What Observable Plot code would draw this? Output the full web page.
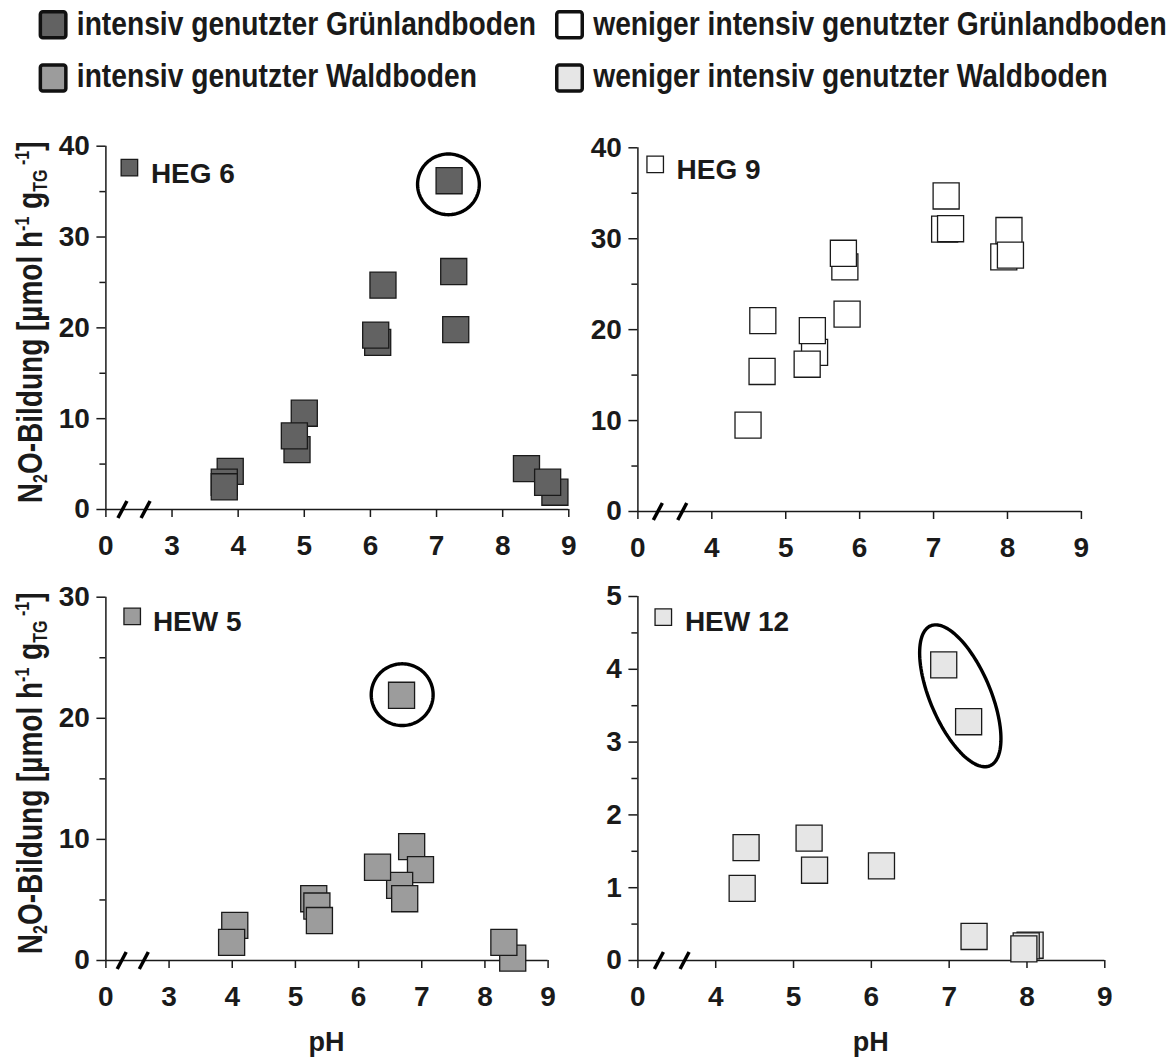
<!DOCTYPE html>
<html><head><meta charset="utf-8">
<script src="https://cdn.jsdelivr.net/npm/d3@7"></script>
<script src="https://cdn.jsdelivr.net/npm/@observablehq/plot@0.6"></script>
<style>
html,body{margin:0;padding:0;background:#fff;}
#root{position:relative;width:1171px;height:1062px;overflow:hidden;background:#fff;}
#root svg{position:absolute;}
</style></head><body><div id="root"></div>
<script>
// ---------- data ----------
const legendLabels = [
  "intensiv genutzter Grünlandboden",
  "weniger intensiv genutzter Grünlandboden",
  "intensiv genutzter Waldboden",
  "weniger intensiv genutzter Waldboden"
];
const siteNames = ["HEG 6", "HEG 9", "HEW 5", "HEW 12"];

const heg6_pH  = [7.19, 7.26, 7.29, 6.19, 6.11, 6.08, 5.00, 4.89, 4.85, 3.88, 3.79, 3.79, 8.36, 8.79, 8.68];
const heg6_N2O = [36.2, 26.2, 19.8, 24.7, 18.4, 19.2, 10.6, 6.6, 8.1, 4.2, 3.0, 2.5, 4.5, 1.9, 3.0];

const heg9_pH  = [7.15, 7.17, 7.23, 7.95, 8.02, 8.04, 5.80, 5.78, 5.83, 4.69, 5.39, 5.36, 5.29, 4.68, 4.49];
const heg9_N2O = [31.05, 34.7, 31.1, 28.0, 30.9, 28.2, 26.9, 28.4, 21.7, 21.0, 17.5, 19.9, 16.2, 15.4, 9.5];

const hew5_pH  = [6.68, 6.84, 6.98, 6.65, 6.30, 6.73, 5.29, 5.34, 5.38, 4.04, 3.99, 8.44, 8.30];
const hew5_N2O = [21.9, 9.4, 7.5, 6.2, 7.7, 5.1, 5.1, 4.5, 3.3, 2.9, 1.5, 0.2, 1.5];

const hew12_pH  = [4.39, 5.20, 5.27, 6.13, 4.34, 6.93, 7.25, 7.32, 8.04, 7.99, 7.96];
const hew12_N2O = [1.55, 1.68, 1.24, 1.30, 0.99, 4.06, 3.28, 0.33, 0.21, 0.20, 0.16];

// x axis with break: tick positions and their labels
const xTicksA = [2, 3, 4, 5, 6, 7, 8, 9];
const xLabelsA = ["0", "3", "4", "5", "6", "7", "8", "9"];
const xTicksB = [3, 4, 5, 6, 7, 8, 9];
const xLabelsB = ["0", "4", "5", "6", "7", "8", "9"];
const breakA = [2.25, 2.6];
const breakB = [3.27, 3.6];

const yMajor40 = [0, 10, 20, 30, 40], yMinor40 = [5, 15, 25, 35];
const yMajor30 = [0, 10, 20, 30],     yMinor30 = [5, 15, 25];
const yMajor5  = [0, 1, 2, 3, 4, 5],  yMinor5  = [0.5, 1.5, 2.5, 3.5, 4.5];

// highlighted outliers (ellipses in data units: centre + conjugate semi-axes)
const ringHEG6  = {cx: 7.18, cy: 35.8, ax: 0.467, ay: 0, bx: 0, by: 3.34};
const ringHEW5  = {cx: 6.69, cy: 21.95, ax: 0.49, ay: 0, bx: 0, by: 2.55};
const ringHEW12 = {cx: 7.143, cy: 3.636, ax: 0.369, ay: -0.966, bx: 0.37, by: 0.13};

// ---------- styles / layout ----------
const fills = ["#626262", "#ffffff", "#9c9c9c", "#e6e6e6"];
const FONT = "'Liberation Sans', Arial, Helvetica, sans-serif";
const INK = "#1a1a1a";

const root = d3.select("#root");

// legend
const leg = root.append("svg").attr("width", 1171).attr("height", 110)
  .style("left", "0px").style("top", "0px");
const colX = [38.6, 555], swTop = [10, 63.3], base = [35, 87.3];
legendLabels.forEach((lab, i) => {
  const c = i % 2, r = Math.floor(i / 2);
  leg.append("rect").attr("x", colX[c] + 1.75).attr("y", swTop[r] + 1.75)
    .attr("width", 29 - 3.5).attr("height", 29.5 - 3.5).attr("rx", 2.5)
    .attr("fill", fills[i]).attr("stroke", "#111").attr("stroke-width", 3.5);
  leg.append("text").attr("transform", `translate(${colX[c] + 38.2},${base[r]}) scale(0.855,1)`)
    .attr("font-family", FONT).attr("font-weight", "bold").attr("font-size", 33)
    .attr("fill", INK).text(lab);
});

const slash = {draw(ctx) { ctx.moveTo(-4.5, 8.5); ctx.lineTo(4.5, -8.5); }};

function ellipsePoints(e) {
  return d3.range(0, 121).map(i => {
    const t = 2 * Math.PI * i / 120;
    return {ph: e.cx + e.ax * Math.cos(t) + e.bx * Math.sin(t),
            v: e.cy + e.ay * Math.cos(t) + e.by * Math.sin(t)};
  });
}

const panels = [
  {name: siteNames[0], ph: heg6_pH, n2o: heg6_N2O, fill: fills[0], xTicks: xTicksA, xLabels: xLabelsA, brk: breakA,
   yDomain: [0, 40], yMajor: yMajor40, yMinor: yMinor40, ring: ringHEG6,
   left: 0, top: 110, w: 590, h: 470, ml: 105.4, mr: 21.7, mt: 35.7, mb: 71,
   swX: 23.5, swY: 21.5, txX: 45, txY: 36.6, ytitle: true, xtitle: false},
  {name: siteNames[1], ph: heg9_pH, n2o: heg9_N2O, fill: fills[1], xTicks: xTicksB, xLabels: xLabelsB, brk: breakB,
   yDomain: [0, 40], yMajor: yMajor40, yMinor: yMinor40, ring: null,
   left: 590, top: 110, w: 581, h: 470, ml: 47.4, mr: 90.1, mt: 37.3, mb: 69,
   swX: 17.3, swY: 16.5, txX: 38.6, txY: 31, ytitle: false, xtitle: false},
  {name: siteNames[2], ph: hew5_pH, n2o: hew5_N2O, fill: fills[2], xTicks: xTicksA, xLabels: xLabelsA, brk: breakA,
   yDomain: [0, 30], yMajor: yMajor30, yMinor: yMinor30, ring: ringHEW5,
   left: 0, top: 570, w: 590, h: 492, ml: 105.4, mr: 42.4, mt: 26.7, mb: 102,
   swX: 26.3, swY: 19.2, txX: 47, txY: 33.3, ytitle: true, xtitle: true},
  {name: siteNames[3], ph: hew12_pH, n2o: hew12_N2O, fill: fills[3], xTicks: xTicksB, xLabels: xLabelsB, brk: breakB,
   yDomain: [0, 5], yMajor: yMajor5, yMinor: yMinor5, ring: ringHEW12,
   left: 590, top: 570, w: 581, h: 492, ml: 47.4, mr: 66.7, mt: 26, mb: 102,
   swX: 25.4, swY: 20.7, txX: 47, txY: 34.7, ytitle: false, xtitle: true}
];

panels.forEach(p => {
  const data = p.ph.map((ph, i) => ({ph, v: p.n2o[i]}));
  const xDomain = [p.xTicks[0], p.xTicks[p.xTicks.length - 1]];
  const chart = Plot.plot({
    width: p.w, height: p.h,
    marginLeft: p.ml, marginRight: p.mr, marginTop: p.mt, marginBottom: p.mb,
    x: {domain: xDomain},
    y: {domain: p.yDomain},
    style: {fontFamily: FONT, fontSize: "28px", fontWeight: "bold", color: INK, background: "transparent", overflow: "visible"},
    marks: [
      Plot.axisY({ticks: p.yMajor, tickSize: 9, tickPadding: 7, label: null, strokeWidth: 1.5, tickFormat: d => String(d)}),
      Plot.axisY({ticks: p.yMinor, tickSize: 6, tickFormat: () => "", label: null, strokeWidth: 1.5}),
      Plot.axisX({ticks: p.xTicks, tickSize: 8, tickPadding: 18, label: null, strokeWidth: 1.5,
                  tickFormat: d => p.xLabels[p.xTicks.indexOf(d)]}),
      Plot.ruleX([xDomain[0]], {stroke: INK, strokeWidth: 1.5}),
      Plot.ruleY([0], {stroke: INK, strokeWidth: 1.5}),
      Plot.dot(p.brk, {x: d => d, y: () => 0, symbol: slash, r: 5, stroke: "#000", strokeWidth: 3.5, fill: "none"}),
      Plot.dot(data, {x: "ph", y: "v", symbol: "square", r: 14.7, fill: p.fill, stroke: INK, strokeWidth: 1.3}),
      p.ring ? Plot.line(ellipsePoints(p.ring), {x: "ph", y: "v", stroke: "#000", strokeWidth: 3.4}) : null,
      Plot.dot([p.name], {frameAnchor: "top-left", dx: p.swX, dy: p.swY, symbol: "square", r: 16.5 / 1.7725,
                          fill: p.fill, stroke: INK, strokeWidth: 1.3}),
      Plot.text([p.name], {frameAnchor: "top-left", dx: p.txX, dy: p.txY, text: d => d, textAnchor: "start",
                           lineAnchor: "bottom", fontSize: 28, fontWeight: "bold", fill: INK})
    ]
  });
  const svg = d3.select(chart);
  svg.style("left", p.left + "px").style("top", p.top + "px");
  const frameCY = p.mt + (p.h - p.mt - p.mb) / 2;
  if (p.ytitle) {
    const t = svg.append("text")
      .attr("transform", `translate(41.5,${frameCY - 5}) rotate(-90) scale(0.8,1)`)
      .attr("text-anchor", "middle").attr("font-family", FONT).attr("font-weight", "bold")
      .attr("font-size", 35).attr("fill", INK);
    t.append("tspan").text("N");
    t.append("tspan").attr("font-size", 20).attr("dy", 5).text("2");
    t.append("tspan").attr("dy", -5).text("O-Bildung [µmol h");
    t.append("tspan").attr("font-size", 20).attr("dy", -13).text("-1");
    t.append("tspan").attr("dy", 13).text(" g");
    t.append("tspan").attr("font-size", 20).attr("dy", 5).text("TG");
    t.append("tspan").attr("font-size", 20).attr("dy", -18).text(" -1");
    t.append("tspan").attr("dy", 13).text("]");
  }
  if (p.xtitle) {
    svg.append("text")
      .attr("x", p.ml + (p.w - p.ml - p.mr) / 2).attr("y", 481)
      .attr("text-anchor", "middle").attr("font-family", FONT).attr("font-weight", "bold")
      .attr("font-size", 27).attr("fill", INK).text("pH");
  }
  root.node().appendChild(chart);
});
</script></body></html>
